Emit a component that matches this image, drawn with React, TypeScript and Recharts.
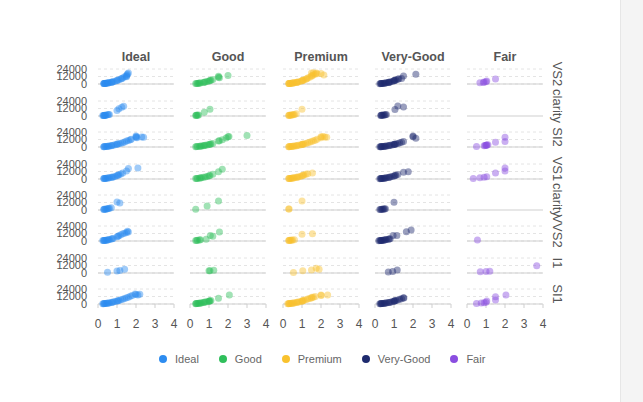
import { ScatterChart, Scatter, XAxis, YAxis, CartesianGrid } from "recharts";

type Pt = [number, number];

const cuts = ["Ideal", "Good", "Premium", "Very-Good", "Fair"];
const cutColors = ["#2D8CF0", "#2FBF5B", "#F9C22E", "#1E2B6E", "#8A4DE0"];
const clarityLabels = ["VS2", "clarity", "SI2", "VS1", "clarity", "VVS2", "I1", "SI1"];
const xTicks = [0, 1, 2, 3, 4];
const yTicks = [0, 12000, 24000];

// [carat, price] per clarity row, one list per cut
const idealPoints: Pt[][] = [
  [[0.3, 650], [0.31, 700], [0.33, 800], [0.35, 850], [0.38, 950], [0.4, 1100], [0.42, 1200], [0.5, 1600], [0.52, 1700], [0.55, 1900], [0.6, 2100], [0.7, 2800], [0.72, 3000], [0.75, 3200], [0.8, 3600], [0.9, 4300], [1.0, 5600], [1.02, 6200], [1.1, 7000], [1.2, 8200], [1.25, 8800], [1.3, 9800], [1.4, 11500], [1.5, 13000], [1.52, 14500], [1.55, 16000], [1.6, 17800], [1.5, 11800]],
  [[0.25, 700], [0.3, 900], [0.31, 950], [0.33, 1000], [0.35, 1100], [0.4, 1300], [0.42, 1400], [0.5, 2000], [0.55, 2300], [0.6, 2600], [1.0, 9000], [1.1, 11500], [1.35, 15500], [1.25, 14000]],
  [[0.3, 550], [0.32, 600], [0.35, 700], [0.4, 800], [0.45, 1000], [0.5, 1200], [0.55, 1400], [0.6, 1600], [0.7, 2200], [0.72, 2400], [0.8, 2900], [0.9, 3500], [1.0, 4300], [1.01, 4700], [1.1, 5200], [1.2, 6000], [1.3, 7000], [1.4, 8200], [1.5, 9500], [1.6, 10500], [1.7, 11800], [1.75, 12500], [2.0, 15500], [2.0, 17500], [2.02, 16500], [2.05, 15000], [2.3, 16200], [2.4, 15800]],
  [[0.3, 700], [0.32, 750], [0.35, 850], [0.4, 1000], [0.42, 1100], [0.5, 1500], [0.55, 1800], [0.6, 2000], [0.7, 2700], [0.75, 3000], [0.8, 3400], [0.9, 4200], [1.0, 5500], [1.05, 6000], [1.1, 6800], [1.2, 8000], [1.3, 9500], [1.5, 13000], [1.6, 17000], [2.1, 17500]],
  [[0.3, 1000], [0.32, 1100], [0.35, 1200], [0.4, 1400], [0.45, 1700], [0.5, 2000], [0.55, 2300], [0.6, 2800], [0.7, 3500], [1.0, 12800], [1.15, 11200]],
  [[0.25, 700], [0.3, 850], [0.32, 900], [0.35, 1000], [0.4, 1200], [0.45, 1400], [0.5, 1800], [0.55, 2100], [0.6, 2500], [0.7, 3200], [0.75, 3600], [0.8, 4200], [1.0, 7000], [1.05, 7800], [1.1, 8600], [1.2, 10000], [1.3, 11500], [1.4, 12500], [1.5, 13500], [1.55, 15500], [1.6, 14500]],
  [[0.5, 1300], [1.0, 3200], [1.15, 4200], [1.4, 6000]],
  [[0.25, 500], [0.3, 600], [0.32, 650], [0.35, 750], [0.4, 900], [0.45, 1100], [0.5, 1300], [0.55, 1600], [0.6, 1800], [0.7, 2400], [0.75, 2800], [0.8, 3200], [0.9, 3900], [1.0, 4800], [1.05, 5200], [1.1, 5800], [1.2, 6800], [1.3, 7800], [1.4, 9000], [1.5, 10200], [1.6, 11000], [1.7, 12300], [1.8, 13500], [1.95, 16000], [2.0, 15200], [2.1, 14400], [2.2, 15500]],
];

const goodPoints: Pt[][] = [
  [[0.3, 650], [0.35, 800], [0.4, 950], [0.45, 1100], [0.5, 1500], [0.55, 1700], [0.7, 2500], [0.75, 2900], [0.8, 3200], [0.9, 3900], [1.0, 5000], [1.05, 5500], [1.1, 6200], [1.2, 7200], [1.5, 11000], [1.5, 12500], [1.55, 10000], [2.0, 13500]],
  [[0.3, 1000], [0.33, 1100], [0.35, 1200], [0.4, 1400], [0.45, 1600], [0.75, 6000], [1.05, 11000]],
  [[0.3, 550], [0.35, 650], [0.4, 750], [0.5, 1100], [0.55, 1300], [0.6, 1500], [0.7, 2100], [0.75, 2400], [0.8, 2800], [0.9, 3400], [1.0, 4100], [1.05, 4500], [1.1, 5000], [1.2, 5800], [1.5, 9500], [1.55, 10000], [1.7, 11500], [1.9, 14500], [2.0, 16500], [2.05, 17000], [3.0, 18500]],
  [[0.3, 700], [0.35, 850], [0.4, 1000], [0.5, 1500], [0.55, 1700], [0.6, 2000], [0.7, 2700], [0.8, 3400], [0.9, 4100], [1.0, 5200], [1.05, 5800], [1.2, 7800], [1.5, 11500], [1.7, 15500]],
  [[0.3, 1100], [0.9, 6400], [1.5, 14400]],
  [[0.3, 900], [0.35, 1000], [0.4, 1200], [0.5, 1700], [0.55, 2000], [0.85, 2700], [1.07, 9000], [1.2, 7500], [1.55, 14400]],
  [[1.0, 3500], [1.05, 3700], [1.25, 4300]],
  [[0.3, 600], [0.32, 650], [0.35, 750], [0.4, 900], [0.45, 1050], [0.5, 1300], [0.55, 1550], [0.6, 1800], [0.7, 2400], [0.75, 2700], [0.8, 3100], [0.9, 3800], [1.0, 4500], [1.01, 4800], [1.05, 5000], [1.1, 5500], [1.5, 9100], [2.07, 14400]],
];

const premiumPoints: Pt[][] = [
  [[0.3, 700], [0.31, 750], [0.33, 800], [0.35, 850], [0.4, 1000], [0.42, 1100], [0.5, 1500], [0.52, 1600], [0.55, 1800], [0.6, 2000], [0.7, 2600], [0.72, 2800], [0.75, 3000], [0.8, 3300], [0.9, 4000], [1.0, 5200], [1.01, 5600], [1.05, 6000], [1.1, 6600], [1.2, 7800], [1.25, 8500], [1.3, 9500], [1.4, 11000], [1.5, 12500], [1.52, 13500], [1.6, 14500], [1.6, 18000], [1.7, 16000], [1.75, 17500], [1.8, 16500], [2.0, 17000], [2.15, 14400], [1.5, 17500]],
  [[0.3, 1000], [0.32, 1100], [0.35, 1200], [0.4, 1400], [0.45, 1600], [0.5, 1900], [0.55, 2200], [0.6, 2600], [0.7, 3500], [1.0, 11000]],
  [[0.3, 550], [0.32, 600], [0.35, 650], [0.4, 750], [0.45, 900], [0.5, 1100], [0.55, 1300], [0.6, 1500], [0.7, 2000], [0.72, 2200], [0.8, 2700], [0.9, 3300], [1.0, 4000], [1.01, 4300], [1.05, 4600], [1.1, 5000], [1.2, 5800], [1.3, 6800], [1.4, 7800], [1.5, 9000], [1.6, 10000], [1.7, 11000], [1.8, 12500], [2.0, 15000], [2.0, 16500], [2.1, 17000], [2.2, 16000], [2.3, 15500]],
  [[0.3, 700], [0.32, 750], [0.35, 850], [0.4, 1000], [0.45, 1200], [0.5, 1500], [0.55, 1700], [0.6, 2000], [0.7, 2700], [0.75, 3000], [0.8, 3400], [0.9, 4200], [1.0, 5400], [1.05, 6000], [1.1, 6600], [1.2, 7800], [1.3, 8600], [1.55, 9600]],
  [[0.3, 1500], [0.32, 1600], [1.0, 14400]],
  [[0.3, 900], [0.32, 950], [0.35, 1050], [0.4, 1200], [0.45, 1400], [0.5, 1700], [0.6, 2200], [1.0, 10700], [1.55, 11700]],
  [[0.55, 1000], [1.04, 3700], [1.5, 4800], [1.75, 7500], [1.9, 6000]],
  [[0.25, 500], [0.3, 600], [0.32, 650], [0.35, 750], [0.4, 900], [0.45, 1100], [0.5, 1300], [0.55, 1550], [0.6, 1800], [0.7, 2400], [0.75, 2700], [0.8, 3100], [0.9, 3800], [1.0, 4700], [1.01, 5000], [1.05, 5300], [1.1, 5900], [1.2, 6800], [1.3, 7900], [1.4, 8800], [1.5, 9800], [1.52, 10700], [1.6, 11000], [1.7, 12000], [2.0, 14400], [2.01, 13500], [2.35, 14400]],
];

const veryGoodPoints: Pt[][] = [
  [[0.25, 550], [0.3, 650], [0.32, 700], [0.35, 800], [0.4, 950], [0.45, 1100], [0.5, 1400], [0.55, 1700], [0.6, 1900], [0.7, 2500], [0.72, 2800], [0.75, 3000], [0.8, 3300], [0.9, 4000], [1.0, 5100], [1.01, 5500], [1.05, 5900], [1.1, 6400], [1.2, 7500], [1.25, 8300], [1.4, 9000], [1.5, 12800], [2.15, 15500]],
  [[0.3, 1000], [0.33, 1100], [0.35, 1150], [0.4, 1300], [0.45, 1500], [0.5, 1800], [0.55, 2100], [0.6, 2500], [1.05, 10600], [1.2, 16000], [1.5, 14600]],
  [[0.25, 450], [0.3, 550], [0.32, 600], [0.35, 650], [0.4, 750], [0.45, 900], [0.5, 1100], [0.55, 1300], [0.6, 1500], [0.7, 2000], [0.75, 2300], [0.8, 2700], [0.9, 3300], [1.0, 4000], [1.01, 4300], [1.05, 4600], [1.1, 5000], [1.2, 5800], [1.3, 6800], [1.4, 7800], [1.5, 8800], [2.0, 17600], [2.0, 16500], [2.15, 14000]],
  [[0.25, 550], [0.3, 650], [0.32, 700], [0.35, 800], [0.4, 950], [0.45, 1100], [0.5, 1400], [0.55, 1650], [0.6, 1900], [0.7, 2500], [0.75, 2800], [0.8, 3200], [0.9, 3900], [1.0, 5000], [1.05, 5600], [1.1, 6100], [1.2, 7200], [1.5, 11000], [1.75, 11500]],
  [[0.25, 900], [0.3, 1000], [0.35, 1200], [0.4, 1400], [0.45, 1600], [0.5, 1800], [0.55, 2000], [1.0, 12300]],
  [[0.2, 600], [0.25, 700], [0.3, 850], [0.32, 900], [0.35, 1000], [0.4, 1200], [0.45, 1400], [0.5, 1700], [0.55, 2000], [0.6, 2300], [0.7, 2900], [0.75, 3300], [0.8, 3700], [0.95, 9000], [1.15, 9000], [1.65, 15000], [1.9, 17600]],
  [[0.7, 1500], [0.93, 2500], [1.17, 4800]],
  [[0.25, 500], [0.3, 600], [0.32, 650], [0.35, 720], [0.4, 850], [0.45, 1000], [0.5, 1250], [0.55, 1500], [0.6, 1700], [0.7, 2300], [0.75, 2600], [0.8, 3000], [0.9, 3700], [1.0, 4600], [1.01, 4900], [1.05, 5200], [1.1, 5700], [1.2, 6600], [1.3, 7600], [1.4, 8600], [1.5, 10000], [1.52, 9500]],
];

const fairPoints: Pt[][] = [
  [[0.68, 2000], [0.86, 2600], [0.9, 3200], [1.0, 3800], [1.04, 4800], [1.5, 8000]],
  [],
  [[0.5, 1000], [0.9, 2200], [0.95, 2500], [1.0, 2800], [1.02, 3000], [1.05, 3300], [1.1, 3600], [1.5, 7500], [2.0, 9000], [2.0, 15500]],
  [[0.33, 900], [0.68, 2200], [0.9, 2800], [1.04, 3600], [1.5, 9600], [2.0, 13000], [2.0, 17600]],
  [],
  [[0.55, 1600]],
  [[0.7, 2000], [1.0, 2500], [1.2, 3000], [3.67, 11700]],
  [[0.5, 1000], [0.75, 1500], [0.9, 2000], [1.0, 3000], [1.04, 5000], [1.5, 6400], [1.5, 11700], [2.05, 14400]],
];

const pointsByCut = [idealPoints, goodPoints, premiumPoints, veryGoodPoints, fairPoints];

const FONT = "'Liberation Sans', Arial, sans-serif";
const PLOT_W = 76;
const PLOT_H = 15;
const MT = 10;
const ML = 6;
const MR = 6;
const YW = 40;
const XH = 32;
const colX = (c: number) => Math.round(98 + c * 92.25);
const rowBase = (r: number) => Math.round(84.3 + r * 31.43);

function Panel({ col, row }: { col: number; row: number }) {
  const pts = pointsByCut[col][row];
  const data = pts.map(([carat, price]) => ({ carat, price }));
  const empty = data.length === 0;
  const last = row === clarityLabels.length - 1;
  const yw = col === 0 ? YW : 0;
  const color = cutColors[col];
  return (
    <div
      style={{
        position: "absolute",
        left: colX(col) - ML - yw,
        top: rowBase(row) - PLOT_H - MT,
      }}
    >
      <ScatterChart
        width={PLOT_W + ML + MR + yw}
        height={MT + PLOT_H + XH}
        margin={{ top: MT, right: MR, bottom: 0, left: ML }}
      >
        {!empty && (
          <CartesianGrid vertical={false} strokeDasharray="3 3" stroke="#e4e4e4" />
        )}
        <XAxis
          type="number"
          dataKey="carat"
          domain={[0, 4]}
          ticks={xTicks}
          interval={0}
          height={XH}
          axisLine={{ stroke: "#cfcfcf" }}
          tickLine={empty ? false : { stroke: "#cfcfcf" }}
          tickSize={4}
          tickMargin={11}
          tick={last ? { fontSize: 12, fill: "#555" } : false}
        />
        <YAxis
          type="number"
          dataKey="price"
          domain={[0, 24000]}
          ticks={yTicks}
          interval={0}
          hide={col !== 0}
          width={YW}
          axisLine={false}
          tickLine={false}
          tickMargin={5}
          tick={{ fontSize: 11, fill: "#555" }}
        />
        <Scatter
          data={data}
          fill={color}
          isAnimationActive={false}
          shape={(p: any) => (
            <circle cx={p.cx} cy={p.cy} r={3.5} fill={color} fillOpacity={0.45} />
          )}
        />
      </ScatterChart>
    </div>
  );
}

export default function App() {
  return (
    <div
      style={{
        position: "absolute",
        left: 0,
        top: 0,
        width: 643,
        height: 402,
        background: "#fff",
        fontFamily: FONT,
        overflow: "hidden",
      }}
    >
      {cuts.map((cut, c) => (
        <div
          key={cut}
          style={{
            position: "absolute",
            left: colX(c) - 20,
            width: PLOT_W + 40,
            top: 50,
            textAlign: "center",
            fontSize: 12.5,
            fontWeight: 700,
            color: "#555",
          }}
        >
          {cut}
        </div>
      ))}
      {clarityLabels.map((lab, r) =>
        cuts.map((_, c) => <Panel key={`${r}-${c}`} col={c} row={r} />)
      )}
      {clarityLabels.map((lab, r) => (
        <div
          key={`lab-${r}`}
          style={{
            position: "absolute",
            left: 557 - 40,
            top: rowBase(r) - 10 - 8,
            width: 80,
            height: 16,
            lineHeight: "16px",
            textAlign: "center",
            fontSize: 13,
            color: "#555",
            transform: "rotate(90deg)",
            whiteSpace: "nowrap",
          }}
        >
          {lab}
        </div>
      ))}
      <div
        style={{
          position: "absolute",
          left: 159,
          top: 353,
          display: "flex",
          alignItems: "center",
          gap: 20,
          fontSize: 11,
          color: "#666",
        }}
      >
        {cuts.map((cut, c) => (
          <div key={cut} style={{ display: "flex", alignItems: "center", gap: 8 }}>
            <span
              style={{
                width: 8,
                height: 8,
                borderRadius: 4,
                background: cutColors[c],
                display: "inline-block",
              }}
            />
            <span>{cut}</span>
          </div>
        ))}
      </div>
      <div
        style={{
          position: "absolute",
          left: 620,
          top: 0,
          width: 23,
          height: 402,
          background: "#f4f4f4",
          borderLeft: "1px solid #e6e6e6",
        }}
      />
    </div>
  );
}
